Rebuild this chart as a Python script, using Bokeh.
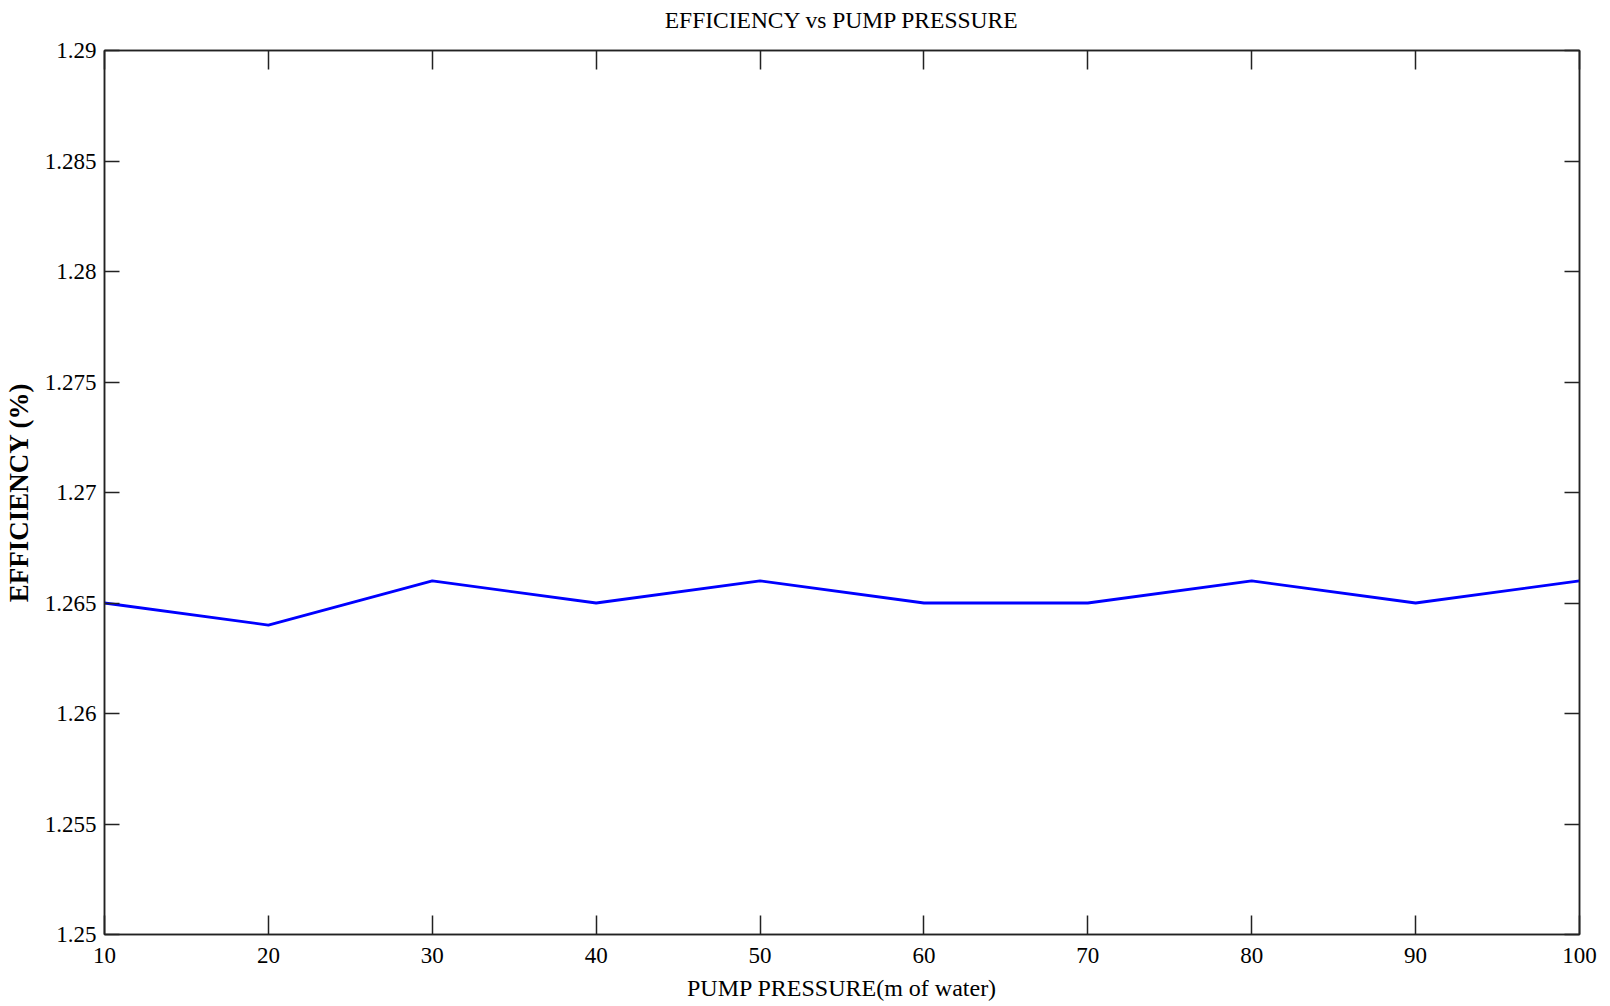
from bokeh.plotting import figure
from bokeh.embed import file_html
from bokeh.resources import INLINE
from bokeh.models import FixedTicker, CustomJSTickFormatter, LinearAxis, Range1d

pressure = [10, 20, 30, 40, 50, 60, 70, 80, 90, 100]
efficiency = [1.265, 1.264, 1.266, 1.265, 1.266, 1.265, 1.265, 1.266, 1.265, 1.266]
x_ticks = [10, 20, 30, 40, 50, 60, 70, 80, 90, 100]
y_ticks = [1.25, 1.255, 1.26, 1.265, 1.27, 1.275, 1.28, 1.285, 1.29]
title_text = "EFFICIENCY vs PUMP PRESSURE"

FONT = "Liberation Serif"

p = figure(width=1604, height=1004, output_backend="svg", toolbar_location=None,
           x_range=Range1d(10, 100), y_range=Range1d(1.25, 1.29),
           min_border_left=103, min_border_right=25, min_border_top=50, min_border_bottom=70,
           x_axis_location=None, y_axis_location=None)
p.title.visible = False

p.line(pressure, efficiency, line_color="#0000FF", line_width=2.8)

fmt = CustomJSTickFormatter(code="var s = tick.toFixed(3); s = s.replace(/0+$/, ''); if (s.endsWith('.')) s = s.slice(0,-1); return s;")

def style(ax, tick_len, labels=True):
    ax.major_tick_in = tick_len
    ax.major_tick_out = 0
    ax.minor_tick_in = 0
    ax.minor_tick_out = 0
    ax.axis_line_color = "#222222"
    ax.axis_line_width = 1.5
    ax.major_tick_line_color = "#222222"
    ax.major_tick_line_width = 1.5
    ax.major_label_text_font = FONT
    ax.major_label_text_font_size = "23px"
    ax.major_label_text_color = "black"
    ax.axis_label_text_font = FONT
    ax.axis_label_text_color = "black"
    ax.axis_label_text_font_style = "normal"
    if not labels:
        ax.major_label_text_font_size = "0px"
        ax.major_label_text_alpha = 0
        ax.major_label_standoff = 0

xb = LinearAxis(ticker=FixedTicker(ticks=x_ticks), axis_label="PUMP PRESSURE(m of water)")
style(xb, 19)
xb.major_label_standoff = 13
xb.axis_label_standoff = 9
xb.axis_label_text_font_size = "24px"
p.add_layout(xb, "below")

# top box axis; its axis label serves as the chart title
xt = LinearAxis(ticker=FixedTicker(ticks=x_ticks), axis_label=title_text)
style(xt, 19, labels=False)
xt.axis_label_standoff = 18
xt.axis_label_text_font_size = "23.5px"
p.add_layout(xt, "above")

yl = LinearAxis(ticker=FixedTicker(ticks=y_ticks), formatter=fmt, axis_label="EFFICIENCY (%)")
style(yl, 15)
yl.major_label_standoff = 8
yl.axis_label_standoff = 8
yl.axis_label_text_font_size = "27px"
yl.axis_label_text_font_style = "bold"
p.add_layout(yl, "left")

yr = LinearAxis(ticker=FixedTicker(ticks=y_ticks))
style(yr, 15, labels=False)
p.add_layout(yr, "right")

p.xgrid.visible = False
p.ygrid.visible = False
p.outline_line_color = "#222222"
p.outline_line_width = 1.5
p.background_fill_color = "white"
p.border_fill_color = "white"

open("out.html", "w").write(file_html(p, INLINE))
